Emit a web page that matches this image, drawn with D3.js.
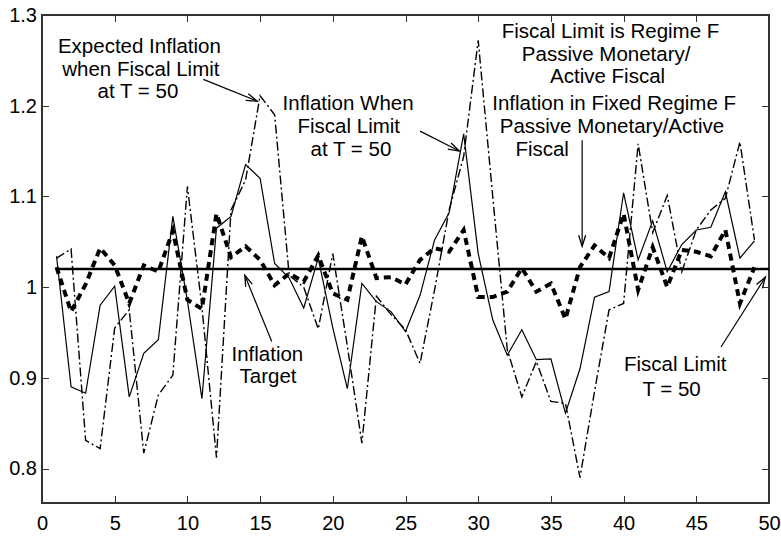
<!DOCTYPE html>
<head>
    <meta charset="utf-8">
    <script src="https://d3js.org/d3.v7.min.js"></script>
    <style>
      body { margin: 0; background: #fff; }
      .axis text {
          font-family: Arial, "Liberation Sans", sans-serif;
          font-size: 20px;
          fill: #000;
      }
      .axis line { stroke: #333; shape-rendering: crispEdges; }
      .note {
          font-family: Arial, "Liberation Sans", sans-serif;
          font-size: 20.5px;
          fill: #000;
      }
    </style>
</head>
<body>
    <div class="chart"></div>

    <script>
      // periods 1..49
      var periods = [1, 2, 3, 4, 5, 6, 7, 8, 9, 10, 11, 12, 13, 14, 15, 16, 17, 18, 19, 20,
                     21, 22, 23, 24, 25, 26, 27, 28, 29, 30, 31, 32, 33, 34, 35, 36, 37, 38, 39, 40,
                     41, 42, 43, 44, 45, 46, 47, 48, 49];

      // inflation when fiscal limit at T = 50 (thin solid)
      var inflationLimit = [1.034, 0.890, 0.883, 0.980, 1.001, 0.879, 0.927, 0.942, 1.078, 0.985,
                            0.877, 1.065, 1.078, 1.135, 1.120, 1.026, 1.010, 0.977, 1.032, 0.955,
                            0.888, 1.004, 0.984, 0.973, 0.951, 0.991, 1.052, 1.082, 1.169, 1.037,
                            0.964, 0.925, 0.953, 0.920, 0.921, 0.861, 0.910, 0.989, 0.995, 1.104,
                            1.030, 1.073, 1.017, 1.047, 1.063, 1.066, 1.105, 1.032, 1.051];

      // expected inflation when fiscal limit at T = 50 (dash-dot)
      var expectedInflation = [1.032, 1.042, 0.831, 0.822, 0.955, 0.975, 0.817, 0.881, 0.903, 1.111,
                               0.978, 0.812, 1.085, 1.118, 1.211, 1.190, 1.013, 1.000, 0.954, 1.037,
                               0.935, 0.828, 0.990, 0.970, 0.953, 0.916, 0.997, 1.085, 1.144, 1.272,
                               1.100, 0.931, 0.879, 0.918, 0.874, 0.872, 0.790, 0.885, 0.975, 0.982,
                               1.158, 1.060, 1.101, 1.017, 1.063, 1.085, 1.098, 1.160, 1.052];

      // inflation in fixed regime F (thick dashed)
      var inflationFixed = [1.022, 0.973, 1.003, 1.043, 1.024, 0.982, 1.024, 1.017, 1.062, 0.986,
                            0.976, 1.081, 1.033, 1.045, 1.030, 1.002, 1.015, 1.006, 1.035, 0.993,
                            0.986, 1.056, 1.010, 1.011, 1.003, 1.030, 1.043, 1.039, 1.063, 0.989,
                            0.989, 0.995, 1.021, 0.995, 1.004, 0.965, 1.022, 1.046, 1.032, 1.081,
                            0.997, 1.044, 1.000, 1.041, 1.039, 1.034, 1.063, 0.982, 1.022];

      var targetValue = 1.02;
      var targetSpan = [1, 50];

      var xTicks = [0, 5, 10, 15, 20, 25, 30, 35, 40, 45, 50];
      var yTicks = [0.8, 0.9, 1.0, 1.1, 1.2, 1.3];
      var yTickLabels = ["0.8", "0.9", "1", "1.1", "1.2", "1.3"];

      // annotation text lines, anchored in data units
      var noteLines = [
        {text: "Expected Inflation", x: 6.7, y: 1.258},
        {text: "when Fiscal Limit", x: 6.8, y: 1.233},
        {text: "at T = 50", x: 6.6, y: 1.208},
        {text: "Inflation When", x: 21.05, y: 1.195},
        {text: "Fiscal Limit", x: 21.1, y: 1.170},
        {text: "at T = 50", x: 21.25, y: 1.145},
        {text: "Fiscal Limit is Regime F", x: 39.1, y: 1.275},
        {text: "Passive Monetary/", x: 38.8, y: 1.249},
        {text: "Active Fiscal", x: 38.9, y: 1.225},
        {text: "Inflation in Fixed Regime F", x: 39.35, y: 1.195},
        {text: "Passive Monetary/Active", x: 39.2, y: 1.170},
        {text: "Fiscal", x: 34.4, y: 1.145},
        {text: "Inflation", x: 15.5, y: 0.918},
        {text: "Target", x: 15.55, y: 0.894},
        {text: "Fiscal Limit", x: 43.55, y: 0.907},
        {text: "T = 50", x: 43.3, y: 0.880}
      ];

      var noteArrows = [
        {x1: 11.1, y1: 1.229, x2: 14.8, y2: 1.205},
        {x1: 26.0, y1: 1.172, x2: 28.7, y2: 1.150},
        {x1: 37.15, y1: 1.162, x2: 37.15, y2: 1.045},
        {x1: 15.8, y1: 0.940, x2: 13.95, y2: 1.013},
        {x1: 46.7, y1: 0.934, x2: 49.75, y2: 1.011}
      ];

      var width = 781, height = 541,
          margin = {top: 15, right: 12, bottom: 38, left: 42};
      var innerW = width - margin.left - margin.right,
          innerH = height - margin.top - margin.bottom;

      var svg = d3.select('.chart')
          .append('svg')
          .attr('width', width)
          .attr('height', height)
          .style('background', '#fff');

      var g = svg.append('g')
          .attr('transform', 'translate(' + margin.left + ',' + margin.top + ')');

      var xScale = d3.scaleLinear().domain([0, 50]).range([0, innerW]);
      var yScale = d3.scaleLinear().domain([0.762, 1.3]).range([innerH, 0]);

      // axes, ticks pointing inward on all four sides
      g.append('g')
          .attr('class', 'axis')
          .attr('transform', 'translate(0,' + innerH + ')')
          .call(d3.axisBottom(xScale).tickValues(xTicks).tickSize(-7).tickPadding(13).tickFormat(d3.format('d')))
          .call(function(s) { s.select('.domain').remove(); });

      g.append('g')
          .attr('class', 'axis')
          .call(d3.axisTop(xScale).tickValues(xTicks).tickSize(-7).tickFormat(''))
          .call(function(s) { s.select('.domain').remove(); });

      g.append('g')
          .attr('class', 'axis')
          .call(d3.axisLeft(yScale).tickValues(yTicks).tickSize(-7).tickPadding(5)
              .tickFormat(function(d, i) { return yTickLabels[i]; }))
          .call(function(s) { s.select('.domain').remove(); });

      g.append('g')
          .attr('class', 'axis')
          .attr('transform', 'translate(' + innerW + ',0)')
          .call(d3.axisRight(yScale).tickValues(yTicks).tickSize(-7).tickFormat(''))
          .call(function(s) { s.select('.domain').remove(); });

      g.append('rect')
          .attr('x', 0)
          .attr('y', 0)
          .attr('width', innerW)
          .attr('height', innerH)
          .attr('fill', 'none')
          .attr('stroke', '#333')
          .attr('stroke-width', 1.2)
          .attr('shape-rendering', 'crispEdges');

      function seriesData(values) {
        return periods.map(function(p, i) { return {t: p, v: values[i]}; });
      }

      var line = d3.line()
          .x(function(d) { return xScale(d.t); })
          .y(function(d) { return yScale(d.v); });

      // target line
      g.append('path')
          .datum(targetSpan.map(function(t) { return {t: t, v: targetValue}; }))
          .attr('d', line)
          .attr('fill', 'none')
          .attr('stroke', '#000')
          .attr('stroke-width', 2.5);

      g.append('path')
          .datum(seriesData(inflationFixed))
          .attr('d', line)
          .attr('fill', 'none')
          .attr('stroke', '#000')
          .attr('stroke-width', 4)
          .attr('stroke-dasharray', '7,5');

      g.append('path')
          .datum(seriesData(expectedInflation))
          .attr('d', line)
          .attr('fill', 'none')
          .attr('stroke', '#000')
          .attr('stroke-width', 1.4)
          .attr('stroke-dasharray', '9,3,2,3');

      g.append('path')
          .datum(seriesData(inflationLimit))
          .attr('d', line)
          .attr('fill', 'none')
          .attr('stroke', '#000')
          .attr('stroke-width', 1.2);

      // arrowhead
      svg.append('defs').append('marker')
          .attr('id', 'head')
          .attr('viewBox', '-12 -6 14 12')
          .attr('refX', 0)
          .attr('refY', 0)
          .attr('markerWidth', 14)
          .attr('markerHeight', 12)
          .attr('markerUnits', 'userSpaceOnUse')
          .attr('orient', 'auto')
          .append('path')
          .attr('d', 'M-11,-3.5 L0,0 L-11,3.5')
          .attr('fill', 'none')
          .attr('stroke', '#000')
          .attr('stroke-width', 1.3);

      g.selectAll('.arrow')
          .data(noteArrows)
          .enter().append('line')
          .attr('class', 'arrow')
          .attr('x1', function(d) { return xScale(d.x1); })
          .attr('y1', function(d) { return yScale(d.y1); })
          .attr('x2', function(d) { return xScale(d.x2); })
          .attr('y2', function(d) { return yScale(d.y2); })
          .attr('stroke', '#000')
          .attr('stroke-width', 1.2)
          .attr('marker-end', 'url(#head)');

      g.selectAll('.note')
          .data(noteLines)
          .enter().append('text')
          .attr('class', 'note')
          .attr('text-anchor', 'middle')
          .attr('x', function(d) { return xScale(d.x); })
          .attr('y', function(d) { return yScale(d.y); })
          .text(function(d) { return d.text; });
    </script>
</body>
